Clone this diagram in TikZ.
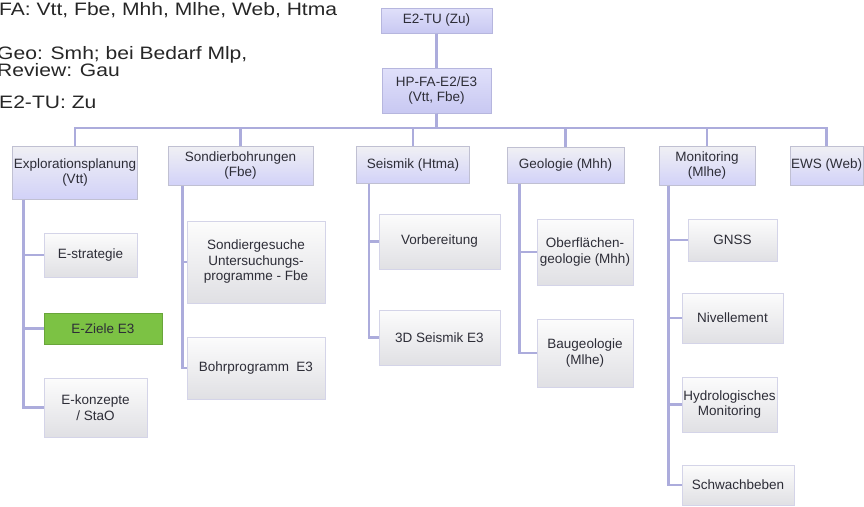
\documentclass[tikz,border=0pt]{standalone}
\usepackage{fontspec}
\setmainfont{Liberation Sans}
\usepackage{xcolor}
\usepackage{tikz}

\definecolor{linie}{RGB}{172,172,220}
\definecolor{leadtop}{RGB}{224,224,250}
\definecolor{leadbot}{RGB}{200,200,242}
\definecolor{leadrand}{RGB}{182,182,222}
\definecolor{areatop}{RGB}{240,240,244}
\definecolor{areabot}{RGB}{210,210,248}
\definecolor{arearand}{RGB}{192,192,210}
\definecolor{tasktop}{RGB}{252,252,252}
\definecolor{taskbot}{RGB}{224,224,228}
\definecolor{taskrand}{RGB}{212,212,232}
\definecolor{goalgreen}{RGB}{124,194,68}
\definecolor{schrift}{RGB}{45,45,55}

\begin{document}
\begin{tikzpicture}[
    x=1pt, y=-1pt,
    every node/.style={text=schrift, font=\fontsize{13.5}{15.5}\selectfont, align=center, inner sep=1pt},
    lead/.style={rectangle, draw=leadrand, line width=1pt, top color=leadtop, bottom color=leadbot},
    area/.style={rectangle, draw=arearand, line width=1pt, top color=areatop, bottom color=areabot, middle color=areatop!50!areabot},
    task/.style={rectangle, draw=taskrand, line width=1pt, top color=tasktop, bottom color=taskbot},
    goal/.style={rectangle, draw=goalgreen!85!black, line width=0.6pt, fill=goalgreen},
    note/.style={anchor=base west, text=black!85, font=\fontsize{18}{17}\selectfont, align=left, inner sep=0pt, xscale=1.17},
    line/.style={-, draw=linie, line width=2.6pt}
]
\useasboundingbox (0,0) rectangle (864,506);

% Hinweise oben links
\node[note] (fa) at (-1,16) {FA: Vtt, Fbe, Mhh, Mlhe, Web, Htma};
\node[note] (geo) at (-3,76) {Geo: Smh; bei Bedarf Mlp,\\Review: Gau};
\node[note] (tu) at (-1,108) {E2-TU: Zu};

% Leitung
\node[lead, minimum width=111pt, minimum height=25pt] (zu) at (436.5,20.5) {E2-TU (Zu)};
\node[lead, minimum width=109pt, minimum height=45pt] (hp) at (436.5,90.5) {HP-FA-E2/E3\\(Vtt, Fbe)};

% Bereiche
\node[area, minimum width=124pt, minimum height=53pt] (expl) at (75,172.5) {Explorationsplanung\\(Vtt)};
\node[area, minimum width=145pt, minimum height=39pt] (sond) at (240.5,165.5) {Sondierbohrungen\\(Fbe)};
\node[area, minimum width=113pt, minimum height=37pt] (seis) at (413,165) {Seismik (Htma)};
\node[area, minimum width=117pt, minimum height=36pt] (geol) at (565.5,165) {Geologie (Mhh)};
\node[area, minimum width=96pt, minimum height=39pt] (moni) at (707,165.5) {Monitoring\\(Mlhe)};
\node[area, minimum width=73pt, minimum height=39pt] (ews) at (826.5,165.5) {EWS (Web)};

% Aufgaben Explorationsplanung
\node[task, minimum width=93pt, minimum height=44pt] (estrat) at (90.5,255) {E-strategie};
\node[goal, minimum width=118pt, minimum height=31pt] (eziele) at (103,328.5) {E-Ziele E3};
\node[task, minimum width=103pt, minimum height=59pt] (ekonz) at (95.5,407.5) {E-konzepte\\/ StaO};

% Aufgaben Sondierbohrungen
\node[task, minimum width=138pt, minimum height=82pt] (sondges) at (256,262) {Sondiergesuche\\Untersuchungs-\\programme - Fbe};
\node[task, minimum width=138pt, minimum height=62pt] (bohr) at (256,368) {Bohrprogramm~~E3};

% Aufgaben Seismik
\node[task, minimum width=121pt, minimum height=55pt] (vorb) at (439.5,241.5) {Vorbereitung};
\node[task, minimum width=121pt, minimum height=55pt] (seis3d) at (439.5,337.5) {3D Seismik E3};

% Aufgaben Geologie
\node[task, minimum width=96pt, minimum height=66pt] (ober) at (585,252) {Oberflächen-\\geologie (Mhh)};
\node[task, minimum width=96pt, minimum height=68pt] (baug) at (585,353) {Baugeologie\\(Mlhe)};

% Aufgaben Monitoring
\node[task, minimum width=89pt, minimum height=42pt] (gnss) at (732.5,240) {GNSS};
\node[task, minimum width=101pt, minimum height=50pt] (nivel) at (732.5,318) {Nivellement};
\node[task, minimum width=95pt, minimum height=55pt] (hydro) at (729.5,404.5) {Hydrologisches\\Monitoring};
\node[task, minimum width=112pt, minimum height=40pt] (schwach) at (738,485) {Schwachbeben};

% Verbindungen Leitung zu Bereichen
\coordinate (bus) at (436.5,128);
\draw[line] (zu) -- (hp);
\draw[line] (hp.south) -- (bus) -| (expl.north);
\draw[line] (hp.south) -- (bus) -| (sond.north);
\draw[line] (hp.south) -- (bus) -| (seis.north);
\draw[line] (hp.south) -- (bus) -| (geol.north);
\draw[line] (hp.south) -- (bus) -| (moni.north);
\draw[line] (hp.south) -- (bus) -| (ews.north);

% Verbindungen Bereiche zu Aufgaben
\draw[line] ([xshift=11pt]expl.south west) |- (estrat.west);
\draw[line] ([xshift=11pt]expl.south west) |- (eziele.west);
\draw[line] ([xshift=11pt]expl.south west) |- (ekonz.west);

\draw[line] ([xshift=15pt]sond.south west) |- (sondges.west);
\draw[line] ([xshift=15pt]sond.south west) |- (bohr.west);

\draw[line] ([xshift=13pt]seis.south west) |- (vorb.west);
\draw[line] ([xshift=13pt]seis.south west) |- (seis3d.west);

\draw[line] ([xshift=13pt]geol.south west) |- (ober.west);
\draw[line] ([xshift=13pt]geol.south west) |- (baug.west);

\draw[line] ([xshift=10pt]moni.south west) |- (gnss.west);
\draw[line] ([xshift=10pt]moni.south west) |- (nivel.west);
\draw[line] ([xshift=10pt]moni.south west) |- (hydro.west);
\draw[line] ([xshift=10pt]moni.south west) |- (schwach.west);

\end{tikzpicture}
\end{document}
